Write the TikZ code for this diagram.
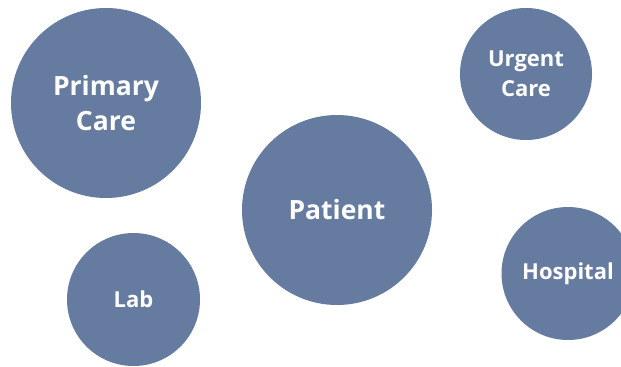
\documentclass[tikz,border=0pt]{standalone}
\usepackage{fontspec}
\setmainfont{Open Sans}
\usepackage{tikz}
\definecolor{slate}{HTML}{667BA0}

\tikzset{
  hub/.style={circle,fill=slate,text=white,inner sep=0pt,align=center,
    font=\bfseries\fontsize{26.5bp}{35bp}\selectfont},
  spoke/.style={hub,font=\bfseries\fontsize{22bp}{30bp}\selectfont}
}

\begin{document}
\begin{tikzpicture}[x=1bp,y=-1bp]
  \useasboundingbox (0,0) rectangle (621,366);
  \clip (0,0) rectangle (621,366);
  % the two large circles
  \node[hub,minimum size=190bp] (primary) at (106,103) {Primary\\Care};
  \node[hub,minimum size=190bp] (patient) at (337,210) {Patient};
  % the smaller ones round them
  \node[spoke,minimum size=132bp] (urgent) at (526,74) {Urgent\\Care};
  \node[spoke,minimum size=133bp] (hospital) at (568,273.5) {Hospital};
  \node[spoke,minimum size=133bp] (lab) at (133.5,299.5) {Lab};
\end{tikzpicture}
\end{document}
